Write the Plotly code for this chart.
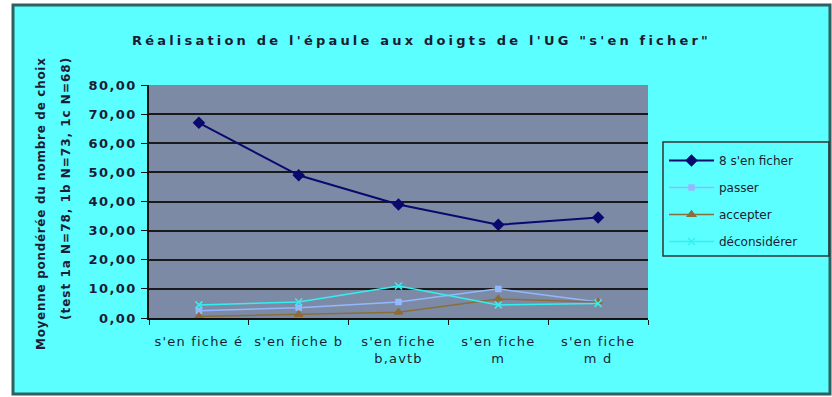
import plotly.graph_objects as go

# Categories (x axis) and series values
categories = ["s'en fiche é", "s'en fiche b", "s'en fiche<br>b,avtb",
              "s'en fiche<br>m", "s'en fiche<br>m d"]
s_en_ficher = [67.0, 49.0, 39.0, 32.0, 34.5]
passer = [2.5, 3.5, 5.5, 10.0, 5.5]
accepter = [0.5, 1.2, 2.0, 6.5, 5.5]
deconsiderer = [4.5, 5.5, 11.0, 4.5, 5.0]

y_ticks = [0, 10, 20, 30, 40, 50, 60, 70, 80]

W, H = 832, 397
L, R, T, B = 149, 184, 85, 79
pw, ph = W - L - R, H - T - B


def px(x):
    return (x - L) / pw


def py(y):
    return (H - B - y) / ph


def spaced(text, ls):
    # widen glyph spacing of a label
    return "<br>".join(f"<span style='letter-spacing:{ls}px'>{part}</span>"
                       for part in text.split("<br>"))


TEXT = "#1c1c34"
CYAN = "#5cffff"
GREY = "#7d8aa5"

fig = go.Figure()

series = [
    ("8 s'en ficher", s_en_ficher, "#0a0a6e", "diamond", 8, 2),
    ("passer", passer, "#93b8ff", "square", 5, 1.5),
    ("accepter", accepter, "#8a6e3a", "triangle-up", 7, 1.5),
    ("déconsidérer", deconsiderer, "#33f0f0", "x-thin-open", 7, 1.5),
]
for i, (name, vals, col, sym, size, lw) in enumerate(series):
    fig.add_trace(go.Scatter(
        x=categories, y=vals, name=name, mode="lines+markers",
        legendgroup=f"g{i}",
        line=dict(color=col, width=lw),
        marker=dict(color=col, symbol=sym, size=size,
                    line=dict(color=col, width=1.5)),
    ))

shapes = [
    # outer chart frame
    dict(type="rect", xref="paper", yref="paper", layer="below",
         x0=px(13), x1=px(830), y0=py(394), y1=py(5),
         fillcolor=CYAN, line=dict(color="#2f5f5f", width=3)),
    # plot area
    dict(type="rect", xref="paper", yref="paper", layer="below",
         x0=0, x1=1, y0=0, y1=1, fillcolor=GREY, line=dict(width=0)),
    # legend box
    dict(type="rect", xref="paper", yref="paper", layer="above",
         x0=px(663), x1=px(829), y0=py(256), y1=py(142),
         fillcolor="rgba(0,0,0,0)", line=dict(color="#333", width=1.5)),
]

annotations = [
    dict(text=spaced("Réalisation de l'épaule aux doigts de l'UG \"s'en ficher\"", 3.2),
         xref="paper", yref="paper", x=px(421), y=py(40),
         showarrow=False, xanchor="center", yanchor="middle",
         font=dict(family="DejaVu Sans", size=13, color=TEXT, weight="bold")),
    dict(text=spaced("Moyenne pondérée du nombre de choix", 0.7),
         xref="paper", yref="paper", x=px(41), y=py(204), textangle=-90,
         showarrow=False, xanchor="center", yanchor="middle",
         font=dict(family="DejaVu Sans", size=12, color=TEXT, weight="bold")),
    dict(text=spaced("(test 1a N=78, 1b N=73, 1c N=68)", 1.0),
         xref="paper", yref="paper", x=px(66), y=py(189), textangle=-90,
         showarrow=False, xanchor="center", yanchor="middle",
         font=dict(family="DejaVu Sans", size=12, color=TEXT, weight="bold")),
]

fig.update_layout(
    width=W, height=H,
    margin=dict(l=L, r=R, t=T, b=B),
    paper_bgcolor="white", plot_bgcolor=GREY,
    shapes=shapes, annotations=annotations,
    showlegend=True,
    legend=dict(x=px(664), y=py(146), xanchor="left", yanchor="top",
                bgcolor="rgba(0,0,0,0)", borderwidth=0,
                tracegroupgap=8, itemwidth=45,
                font=dict(family="DejaVu Sans", size=12, color=TEXT)),
)

fig.update_xaxes(
    type="category", range=[-0.5, 4.5], showgrid=False,
    tickvals=categories, ticktext=[spaced(c, 1.2) for c in categories],
    showline=True, linecolor="#111", linewidth=1.5,
    ticks="outside", tickson="boundaries", ticklen=5, tickcolor="#111",
    ticklabelstandoff=11,
    tickfont=dict(family="DejaVu Sans", size=13, color=TEXT),
)
fig.update_yaxes(
    range=[0, 80], tickvals=y_ticks,
    ticktext=[spaced(f"{v:.2f}".replace(".", ","), 1.4) for v in y_ticks],
    showgrid=True, gridcolor="#1a1a1a", gridwidth=2, zeroline=False,
    showline=True, linecolor="#111", linewidth=1.5,
    ticks="outside", ticklen=6, tickcolor="#111", ticklabelstandoff=2,
    tickfont=dict(family="DejaVu Sans", size=13, color=TEXT, weight="bold"),
)

fig.write_html("out.html")
